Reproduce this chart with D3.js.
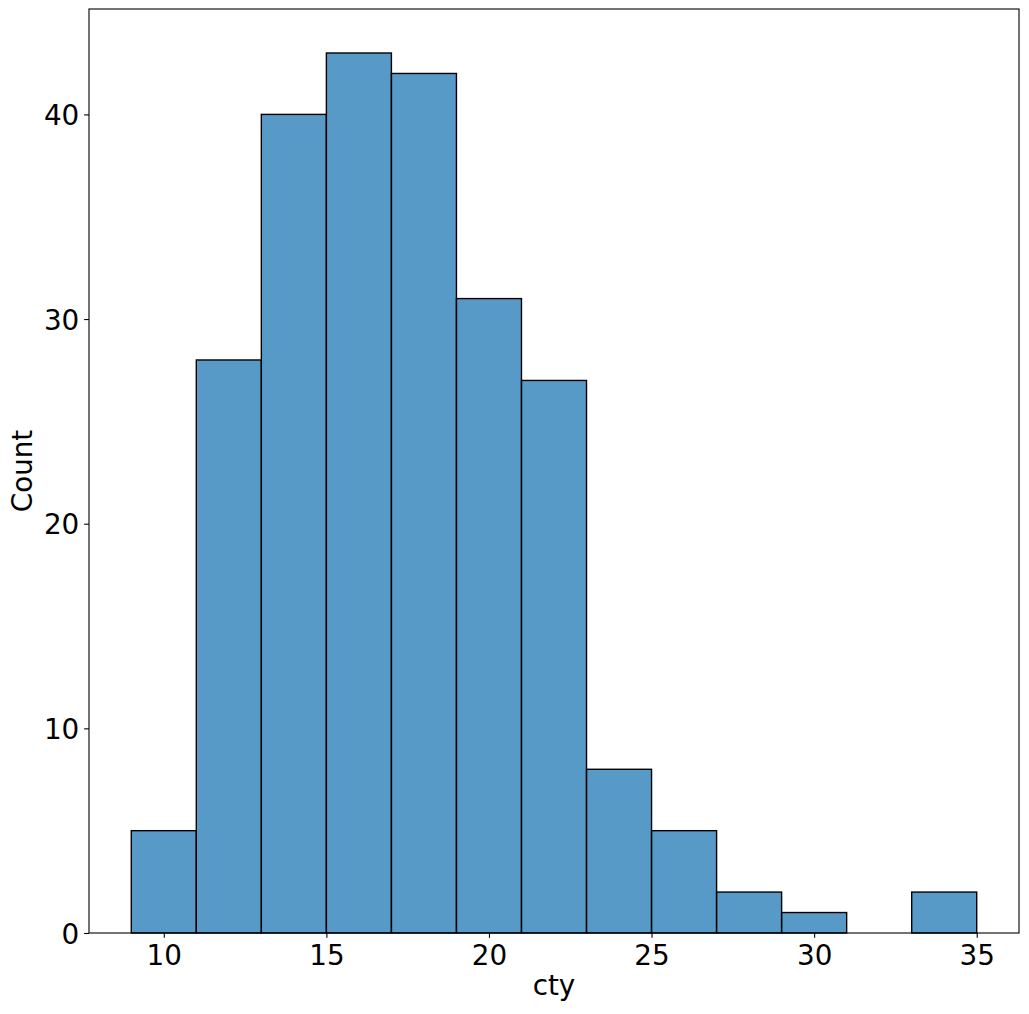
<!DOCTYPE html>
<html>
<head>
<meta charset="utf-8">
<script src="https://cdn.jsdelivr.net/npm/d3@7"></script>
<style>
html,body{margin:0;padding:0;background:#fff;}
svg text{font-family:"DejaVu Sans",sans-serif;}
</style>
</head>
<body>
<svg id="chart" width="1029" height="1014"></svg>
<script>
const binStarts = [9, 11, 13, 15, 17, 19, 21, 23, 25, 27, 29, 31, 33];
const binWidth = 2;
const counts = [5, 28, 40, 43, 42, 31, 27, 8, 5, 2, 1, 0, 2];
const xTicks = [10, 15, 20, 25, 30, 35];
const yTicks = [0, 10, 20, 30, 40];
const xLabel = "cty";
const yLabel = "Count";

const svg = d3.select("#chart");
const L = 89, R = 1019, T = 9, B = 933;
const xmin = 9, xmax = 35, pad = (xmax - xmin) * 0.05;
const x = d3.scaleLinear().domain([xmin - pad, xmax + pad]).range([L, R]);
const ymax = d3.max(counts) * 1.05;
const y = d3.scaleLinear().domain([0, ymax]).range([B, T]);

svg.append("g").selectAll("rect")
  .data(binStarts.map((s, i) => ({s, c: counts[i]})).filter(d => d.c > 0))
  .join("rect")
  .attr("x", d => x(d.s))
  .attr("width", d => x(d.s + binWidth) - x(d.s))
  .attr("y", d => y(d.c))
  .attr("height", d => y(0) - y(d.c))
  .attr("fill", "#1f77b4")
  .attr("fill-opacity", 0.75)
  .attr("stroke", "#000")
  .attr("stroke-width", 1.39);

const fs = 27.8;
const xAxis = d3.axisBottom(x).tickValues(xTicks).tickSize(4.86).tickPadding(4.86).tickFormat(d3.format("d"));
const gx = svg.append("g").attr("transform", `translate(0,${B})`).call(xAxis);
gx.select(".domain").remove();
gx.selectAll("line").attr("stroke", "#000").attr("stroke-width", 1.1);
gx.selectAll("text").attr("font-size", fs).attr("fill", "#000").attr("dy", null).attr("y", 32);

const yAxis = d3.axisLeft(y).tickValues(yTicks).tickSize(4.86).tickPadding(4.86).tickFormat(d3.format("d"));
const gy = svg.append("g").attr("transform", `translate(${L},0)`).call(yAxis);
gy.select(".domain").remove();
gy.selectAll("line").attr("stroke", "#000").attr("stroke-width", 1.1);
gy.selectAll("text").attr("font-size", fs).attr("fill", "#000").attr("dy", "0.36em");

svg.append("rect").attr("x", L).attr("y", T).attr("width", R - L).attr("height", B - T)
  .attr("fill", "none").attr("stroke", "#000").attr("stroke-width", 1.1);

svg.append("text").attr("x", (L + R) / 2).attr("y", 995).attr("text-anchor", "middle")
  .attr("font-size", fs).text(xLabel);
svg.append("text").attr("transform", `translate(32,${(T + B) / 2}) rotate(-90)`)
  .attr("text-anchor", "middle").attr("font-size", fs).text(yLabel);
</script>
</body>
</html>
